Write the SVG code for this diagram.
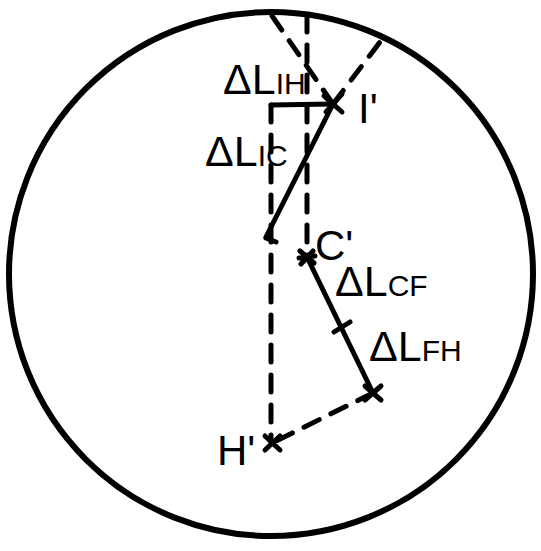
<svg xmlns="http://www.w3.org/2000/svg" width="541" height="551" viewBox="0 0 541 551">
<style>
.ln{fill:none;stroke:#000;stroke-width:5;stroke-linecap:round}
.ds{fill:none;stroke:#000;stroke-width:5;stroke-linecap:round;stroke-dasharray:17 13}
.mk{fill:none;stroke:#000;stroke-width:5;stroke-linecap:round}
text{font-family:"Liberation Sans",Arial,sans-serif;fill:#000}
.big{font-size:43px}
.sub{font-size:30px}
.lbl{font-size:42px}
</style>
<rect width="541" height="551" fill="#fff"/>
<g id="circle"><circle cx="271" cy="274" r="262" fill="none" stroke="#000" stroke-width="6"/></g>
<g id="connectors">
<line class="ds" x1="333" y1="104" x2="270" y2="13"/>
<line class="ds" x1="333" y1="104" x2="383" y2="38"/>
<line class="ds" x1="307" y1="15" x2="307" y2="257"/>
<line class="ds" x1="271" y1="105" x2="271" y2="443"/>
<line class="ds" x1="373" y1="393" x2="272" y2="443"/>
<line class="ln" x1="271" y1="105" x2="333" y2="104"/>
<line class="ln" x1="333" y1="104" x2="266" y2="237"/>
<line class="ln" x1="307" y1="257" x2="373" y2="393"/>
</g>
<g id="I-prime">
<path class="mk" d="M324,96 L342,112 M342,94 L326,112"/>
<text class="lbl" x="358" y="123">I'</text>
</g>
<g id="C-prime">
<path class="mk" d="M300,251 L314,263 M313,251 L301,264 M299,258 L315,256"/>
<text class="lbl" x="315" y="260">C'</text>
</g>
<g id="F-point">
<path class="mk" d="M334,332 L350,322"/>
</g>
<g id="H-end">
<path class="mk" d="M365,386 L381,400 M381,386 L365,400"/>
</g>
<g id="H-prime">
<path class="mk" d="M265,436 L280,450 M280,436 L265,450"/>
<text class="lbl" x="217" y="465">H'</text>
</g>
<g id="mid-point">
<path class="mk" d="M266,238 L276,242"/>
</g>
<g id="label-IH"><text x="223" y="94"><tspan class="big">ΔL</tspan><tspan class="sub">IH</tspan></text></g>
<g id="label-IC"><text x="205" y="166"><tspan class="big">ΔL</tspan><tspan class="sub">IC</tspan></text></g>
<g id="label-CF"><text x="335" y="296"><tspan class="big">ΔL</tspan><tspan class="sub">CF</tspan></text></g>
<g id="label-FH"><text x="369" y="361"><tspan class="big">ΔL</tspan><tspan class="sub">FH</tspan></text></g>
</svg>
